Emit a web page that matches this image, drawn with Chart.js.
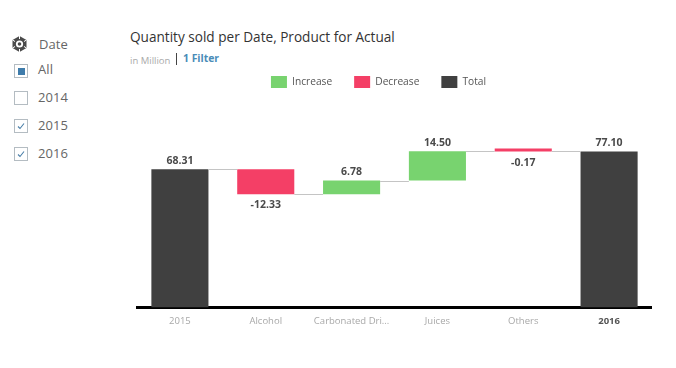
<!DOCTYPE html>
<html><head><meta charset="utf-8">
<script src="https://cdn.jsdelivr.net/npm/chart.js@4"></script>
<style>
html,body{margin:0;padding:0;background:#fff;width:676px;height:368px;overflow:hidden;font-family:"Open Sans","Noto Sans",sans-serif}
.abs{position:absolute;white-space:nowrap;line-height:1}
.box{position:absolute;left:14px;width:12px;height:12px;border:1px solid #b4bcc2;background:#fff}
.lbl{position:absolute;left:38px;font-size:13px;color:#666;line-height:1;letter-spacing:.1px}
canvas{position:absolute;left:103px;top:54px}
</style></head><body>
<svg class="abs" style="left:11px;top:35px" width="17" height="18" viewBox="0 0 17 18">
<path d="M8.5 1 L15.5 5 V13 L8.5 17 L1.5 13 V5 Z" fill="#4a4a4a"/>
<circle cx="8.5" cy="9" r="3.6" fill="#fff"/><circle cx="8.5" cy="9" r="1.8" fill="#4a4a4a"/>
<path d="M8.5 1V4M1.5 5L4 6.5M15.5 5L13 6.5M1.5 13L4 11.5M15.5 13L13 11.5M8.5 17V14" stroke="#fff" stroke-width="1"/>
</svg>
<div class="lbl" style="left:39px;top:38px">Date</div>
<div class="box" style="top:64px"><div style="position:absolute;left:3px;top:3px;width:7px;height:7px;background:#3f7cab"></div></div>
<div class="lbl" style="top:63px">All</div>
<div class="box" style="top:91px"></div>
<div class="lbl" style="top:91px">2014</div>
<div class="box" style="top:119px"><svg width="12" height="12" style="position:absolute;left:0;top:0"><path d="M3 6.5L5 8.5L9 3.5" fill="none" stroke="#4a7fa8" stroke-width="1.1"/></svg></div>
<div class="lbl" style="top:119px">2015</div>
<div class="box" style="top:147px"><svg width="12" height="12" style="position:absolute;left:0;top:0"><path d="M3 6.5L5 8.5L9 3.5" fill="none" stroke="#4a7fa8" stroke-width="1.1"/></svg></div>
<div class="lbl" style="top:147px">2016</div>
<div class="abs" style="left:130px;top:30px;font-size:13.6px;color:#333;letter-spacing:0">Quantity sold per Date, Product for Actual</div>
<div class="abs" style="left:130px;top:56px;font-size:9.5px;color:#aaa">in Million</div>
<div class="abs" style="left:176px;top:53px;width:1px;height:12px;background:#444"></div>
<div class="abs" style="left:183px;top:53px;font-size:10.4px;font-weight:700;color:#4a8cb8">1 Filter</div>
<canvas id="c" width="549" height="281"></canvas>
<script>
const categories=["2015","Alcohol","Carbonated Drinks","Juices","Others","2016"];
const deltas=[68.31,-12.33,6.78,14.50,-0.17,77.10];
const kinds=["total","delta","delta","delta","delta","total"];
const legendNames=["Increase","Decrease","Total"];
const colors={Increase:"#78d36f",Decrease:"#f43f66",Total:"#404040"};
const font='"Open Sans","Noto Sans",sans-serif';

const spans=[];let run=0;
deltas.forEach((v,i)=>{
  if(kinds[i]==="total"){spans.push([0,v]);run=v;}
  else{spans.push([run,run+v]);run+=v;}
});
const pick=t=>spans.map((s,i)=>{
  const k=kinds[i]==="total"?"Total":(deltas[i]>=0?"Increase":"Decrease");
  return k===t?s:null;
});
const legendShift={
  id:"legendShift",
  afterLayout(chart){chart.legend.left-=16;chart.legend.right-=16;}
};
const overlay={
  id:"overlay",
  afterDatasetsDraw(chart){
    const ctx=chart.ctx,y=chart.scales.y;
    const bars=[];
    chart.data.datasets.forEach((d,di)=>{
      chart.getDatasetMeta(di).data.forEach((el,i)=>{if(d.data[i])bars[i]=el;});
    });
    ctx.save();
    ctx.strokeStyle="#c4c4c4";ctx.lineWidth=1;
    for(let i=0;i<bars.length-1;i++){
      const py=Math.round(y.getPixelForValue(spans[i][1]))+.5;
      ctx.beginPath();
      ctx.moveTo(bars[i].x+bars[i].width/2,py);
      ctx.lineTo(bars[i+1].x-bars[i+1].width/2,py);
      ctx.stroke();
    }
    ctx.fillStyle="#4a4a4a";ctx.font='700 10.5px '+font;ctx.textAlign="center";
    bars.forEach((b,i)=>{
      const v=deltas[i],top=Math.max(...spans[i]),bot=Math.min(...spans[i]);
      const t=v.toFixed(2);
      if(v>=0){ctx.textBaseline="bottom";ctx.fillText(t,b.x,y.getPixelForValue(top)-3);}
      else{ctx.textBaseline="top";ctx.fillText(t,b.x,y.getPixelForValue(bot)+6);}
    });
    ctx.restore();
  }
};
new Chart(document.getElementById("c"),{
  type:"bar",
  data:{labels:categories,datasets:legendNames.map(n=>({
    label:n,data:pick(n),backgroundColor:colors[n],borderWidth:0,minBarLength:3,
    grouped:false,categoryPercentage:1,barPercentage:.665
  }))},
  options:{
    responsive:false,animation:false,
    layout:{padding:{left:34,right:0,top:0,bottom:0}},
    scales:{
      x:{grid:{display:false,drawTicks:false},border:{display:true,color:"#000",width:3},
        ticks:{autoSkip:false,maxRotation:0,padding:8,
          callback(v){const s=this.getLabelForValue(v);return s.length>14?s.slice(0,14)+"...":s;},
          color:c=>c.index===5?"#555":"#a8a8a8",
          font:c=>({family:font,size:9.5,weight:c.index===5?"700":"400"})}},
      y:{display:false,min:0,max:103.5}
    },
    plugins:{
      tooltip:{enabled:false},
      legend:{position:"top",labels:{boxWidth:16,boxHeight:12,padding:22,color:"#555",
        font:{family:font,size:10.2}}}
    }
  },
  plugins:[overlay,legendShift]
});
</script>
</body></html>
